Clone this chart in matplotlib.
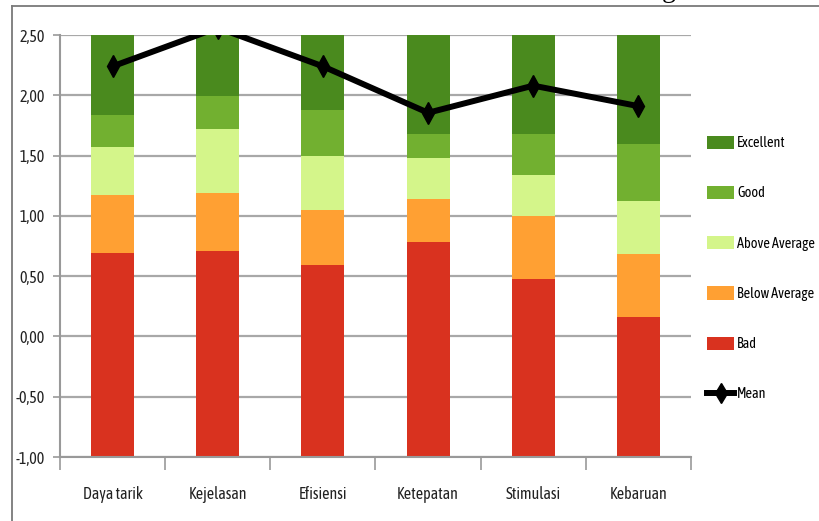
import matplotlib
matplotlib.use("Agg")
import matplotlib.pyplot as plt
import numpy as np
from matplotlib.patches import Patch
from matplotlib.lines import Line2D
from matplotlib.ticker import FuncFormatter, FixedLocator

categories = ["Daya tarik", "Kejelasan", "Efisiensi", "Ketepatan", "Stimulasi", "Kebaruan"]
bad = [1.69, 1.71, 1.59, 1.78, 1.48, 1.16]
below_average = [0.48, 0.48, 0.46, 0.36, 0.52, 0.52]
above_average = [0.40, 0.53, 0.445, 0.34, 0.34, 0.44]
good = [0.27, 0.27, 0.385, 0.20, 0.34, 0.48]
excellent = [1.16, 1.01, 1.12, 1.32, 1.32, 1.40]
mean = [2.24, 2.56, 2.24, 1.855, 2.08, 1.91]
base = -1.0
yticks = [-1.0, -0.5, 0.0, 0.5, 1.0, 1.5, 2.0, 2.5]

series = [("Bad", bad, "#d9321f"),
          ("Below Average", below_average, "#ffa033"),
          ("Above Average", above_average, "#d4f58a"),
          ("Good", good, "#72b030"),
          ("Excellent", excellent, "#4a8a1e")]

plt.rcParams['font.family'] = ['Asap Condensed', 'Barlow Condensed', 'DejaVu Sans']
FS = 11.5
LFS = 10.3

fig = plt.figure(figsize=(8.19, 5.21), dpi=100)
ax = fig.add_axes([60/819, 1-457/521, 631/819, 422/521])

x = np.arange(len(categories))
bottom = np.full(len(categories), base)
handles = []
for name, vals, col in series:
    ax.bar(x, vals, width=0.41, bottom=bottom, color=col, zorder=2, linewidth=0)
    bottom = bottom + np.array(vals)
    handles.append(Patch(facecolor=col, edgecolor='none', label=name))

ax.plot(x, mean, color='black', lw=4.3, marker='d', markersize=11, zorder=4,
        solid_joinstyle='miter')

ax.set_xlim(-0.5, len(categories) - 0.5)
ax.set_ylim(-1.0, 2.5)
ax.yaxis.set_major_locator(FixedLocator(yticks))
ax.yaxis.set_major_formatter(FuncFormatter(lambda v, p: ("%.2f" % v).replace(".", ",")))
ax.grid(axis='y', color='#a8a8a8', lw=1.6, zorder=0)
ax.set_axisbelow(True)

ax.set_xticks(x)
ax.set_xticklabels(categories)
ax.set_xticks(np.arange(len(categories) + 1) - 0.5, minor=True)
ax.tick_params(axis='x', which='major', length=0, pad=21, labelsize=FS, colors='#222222')
ax.tick_params(axis='x', which='minor', length=9, width=1.2, color='#999999')
ax.tick_params(axis='y', length=5, width=1.2, color='#999999', labelsize=FS, pad=6,
               labelcolor='#222222')

for s in ['top', 'right']:
    ax.spines[s].set_visible(False)
for s in ['left', 'bottom']:
    ax.spines[s].set_color('#999999')
    ax.spines[s].set_linewidth(1.5)

mean_handle = Line2D([0], [0], color='black', lw=4.3, marker='d', markersize=10, label='Mean')
leg_handles = handles[::-1] + [mean_handle]
ax.legend(handles=leg_handles, loc='upper left', bbox_to_anchor=(707/819, 1-135.5/521),
          bbox_transform=fig.transFigure, frameon=False, fontsize=LFS,
          labelspacing=2.5, handlelength=1.9, handleheight=1.05, handletextpad=0.2,
          borderpad=0, borderaxespad=0)

# chart frame (partially visible)
fig.add_artist(Line2D([12/819, 12/819], [0, 1-6/521], transform=fig.transFigure,
                      color='#7a7a7a', lw=1.3))
fig.add_artist(Line2D([12/819, 1], [1-6/521, 1-6/521], transform=fig.transFigure,
                      color='#7a7a7a', lw=1.3))
fig.text(662/819, 1+3/521, "g", family='Liberation Serif', fontsize=20, va='baseline',
         ha='left', color='black')

fig.savefig("out.png", dpi=100)
